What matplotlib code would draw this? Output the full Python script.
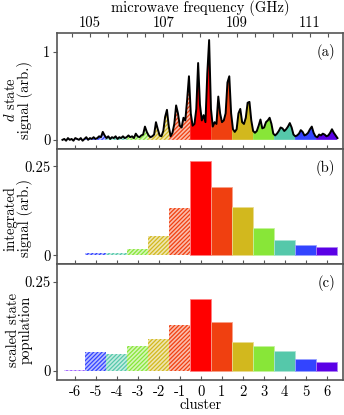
import numpy as np
import matplotlib
matplotlib.use("Agg")
import matplotlib.pyplot as plt
from matplotlib.colors import to_rgb

plt.rcParams["font.family"] = "cmr10"
plt.rcParams["mathtext.fontset"] = "cm"
plt.rcParams["axes.unicode_minus"] = False
plt.rcParams["axes.formatter.use_mathtext"] = True
plt.rcParams["font.size"] = 10.5
plt.rcParams["hatch.linewidth"] = 0.9

# cluster bins and their colours
clusters = [-6, -5, -4, -3, -2, -1, 0, 1, 2, 3, 4, 5, 6]
colours = ["#9a5cff", "#3344ff", "#55c8aa", "#88e638", "#d2b81e", "#f04010",
           "#ff0000", "#f04010", "#d2b81e", "#88e638", "#55c8aa", "#3344ff", "#5a00e6"]

# (b) integrated signal, (c) scaled state population
integrated = [0.002, 0.0076, 0.006, 0.017, 0.054, 0.133, 0.265,
              0.193, 0.137, 0.0755, 0.043, 0.030, 0.0235]
population = [0.002, 0.054, 0.049, 0.070, 0.091, 0.130, 0.203,
              0.139, 0.082, 0.070, 0.055, 0.035, 0.0255]

# (a) d state signal vs microwave frequency (GHz)
freq = np.round(np.arange(104.25, 111.751, 0.05), 2)
signal = [0.00, 0.01, -0.01, 0.02, 0.00, 0.01, -0.01, 0.02, 0.01, 0.00,
          0.02, -0.01, 0.01, 0.03, 0.00, 0.02, 0.01, 0.03, 0.01, 0.02,
          0.04, 0.03, 0.09, 0.05, 0.02, 0.04, 0.01, 0.03, 0.02, 0.04,
          0.01, 0.03, 0.02, 0.04, 0.02, 0.03, 0.05, 0.03, 0.04, 0.02,
          0.07, 0.04, 0.03, 0.05, 0.06, 0.15, 0.09, 0.05, 0.03, 0.04,
          0.06, 0.20, 0.12, 0.05, 0.04, 0.10, 0.26, 0.34, 0.15, 0.04,
          0.08, 0.18, 0.39, 0.30, 0.16, 0.14, 0.25, 0.22, 0.45, 0.72,
          0.30, 0.16, 0.18, 0.35, 0.87, 0.40, 0.22, 0.28, 0.20, 0.75,
          1.13, 0.35, 0.15, 0.20, 0.18, 0.49, 0.30, 0.20, 0.22, 0.30,
          0.65, 0.72, 0.30, 0.12, 0.09, 0.12, 0.30, 0.35, 0.20, 0.18,
          0.25, 0.42, 0.43, 0.22, 0.10, 0.08, 0.10, 0.16, 0.23, 0.13,
          0.14, 0.20, 0.22, 0.25, 0.18, 0.07, 0.05, 0.07, 0.10, 0.14,
          0.13, 0.10, 0.12, 0.15, 0.19, 0.14, 0.06, 0.04, 0.05, 0.07,
          0.11, 0.09, 0.05, 0.06, 0.08, 0.12, 0.15, 0.08, 0.04, 0.03,
          0.06, 0.05, 0.07, 0.06, 0.04, 0.05, 0.08, 0.12, 0.08, 0.05,
          0.02]

f0, df = 108.02, 0.572          # centre frequency of cluster 0, bin width
flim = (104.11, 111.9)
clim = ((flim[0] - f0) / df, (flim[1] - f0) / df)
edge = "#555555"
hatch = "////////"


def tint(c, amount=0.3):
    r = np.array(to_rgb(c))
    return tuple(1 - amount * (1 - r))


fig = plt.figure(figsize=(3.44, 4.15), dpi=100)
gs = fig.add_gridspec(3, 1, left=0.1666, right=0.997, top=0.9205, bottom=0.0843, hspace=0)
ax_a = fig.add_subplot(gs[0])
ax_b = fig.add_subplot(gs[1])
ax_c = fig.add_subplot(gs[2])

# ---- (a)
for k, col in zip(clusters, colours):
    lo, hi = f0 + (k - 0.5) * df, f0 + (k + 0.5) * df
    inside = freq[(freq > lo) & (freq < hi)]
    xs = np.concatenate([[lo], inside, [hi]])
    ys = np.interp(xs, freq, signal)
    if k < 0:
        ax_a.fill_between(xs, 0, ys, facecolor=tint(col, 0.35), edgecolor=col,
                          hatch=hatch, linewidth=0)
    else:
        ax_a.fill_between(xs, 0, ys, facecolor=col, linewidth=0)
ax_a.plot(freq, signal, color="black", lw=1.4)
ax_a.set_xlim(flim)
ax_a.set_ylim(-0.10, 1.21)
ax_a.set_yticks([0, 1])
ax_a.set_yticklabels(["0", "1"])
ax_a.xaxis.set_ticks_position("top")
ax_a.xaxis.set_label_position("top")
fticks = np.arange(104.5, 111.6, 0.5)
ax_a.set_xticks(fticks)
ax_a.set_xticklabels([f"{t:.0f}" if (t % 2 == 1) else "" for t in fticks])
ax_a.tick_params(axis="x", direction="in", length=3, width=0.8, pad=2, color=edge)
ax_a.set_xlabel("microwave frequency (GHz)", labelpad=3)
sec = ax_a.secondary_xaxis("bottom", functions=(lambda f: (f - f0) / df, lambda c: f0 + c * df))
sec.set_xticks(clusters)
sec.tick_params(direction="in", length=3, width=0.8, labelbottom=False, color=edge)
sec.spines["bottom"].set_color(edge)
sec.spines["bottom"].set_linewidth(1.2)
ax_a.set_ylabel("$d$ state\nsignal (arb.)", linespacing=0.95)
ax_a.text(0.972, 0.905, "(a)", transform=ax_a.transAxes, ha="right", va="top")

# ---- (b), (c)
for ax, vals, lab, tag in [(ax_b, integrated, "integrated\nsignal (arb.)", "(b)"),
                           (ax_c, population, "scaled state\npopulation", "(c)")]:
    for k, v, col in zip(clusters, vals, colours):
        if k < 0:
            ax.bar(k, v, width=1, facecolor=tint(col, 0.35), edgecolor=col,
                   hatch=hatch, linewidth=0)
        else:
            ax.bar(k, v, width=1, facecolor=col, edgecolor=tint(col, 0.5), linewidth=0.6)
    ax.set_xlim(clim)
    ax.set_ylim(-0.0255, 0.30)
    ax.set_yticks([0, 0.25])
    ax.set_yticklabels(["0", "0.25"])
    ax.set_xticks(clusters)
    ax.tick_params(axis="x", direction="in", length=3, width=0.8, color=edge)
    ax.set_ylabel(lab, linespacing=0.95)
    ax.text(0.972, 0.905, tag, transform=ax.transAxes, ha="right", va="top")

ax_b.tick_params(axis="x", labelbottom=False)
ax_c.set_xticklabels([str(k) for k in clusters])
ax_c.set_xlabel("cluster", labelpad=0)

for ax, ly in ((ax_a, 0.42), (ax_b, 0.40), (ax_c, 0.43)):
    ax.tick_params(axis="y", direction="out", length=3, width=0.8, pad=2, color=edge)
    for s in ax.spines.values():
        s.set_color(edge)
        s.set_linewidth(1.2)
    ax.yaxis.set_label_coords(-0.085, ly)

fig.savefig("out.png", dpi=100)
